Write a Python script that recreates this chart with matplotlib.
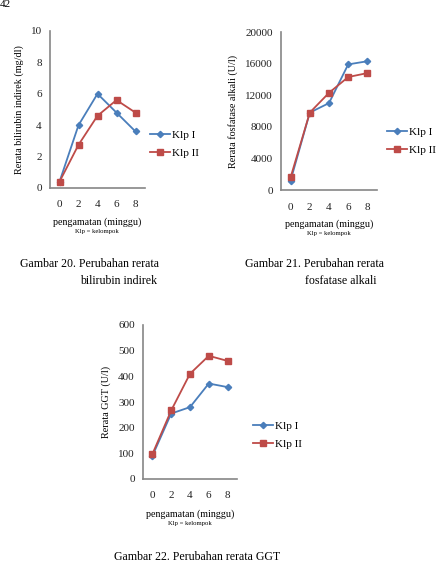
import matplotlib
matplotlib.use("Agg")
import matplotlib.pyplot as plt

plt.rcParams['font.family'] = ['Liberation Serif', 'DejaVu Serif']

W, H = 440, 564
minggu = ['0', '2', '4', '6', '8']

bili_1 = [0.4, 4.0, 6.0, 4.8, 3.6]
bili_2 = [0.4, 2.75, 4.6, 5.6, 4.8]
alp_1 = [1200, 9800, 11000, 15900, 16300]
alp_2 = [1600, 9800, 12300, 14300, 14800]
ggt_1 = [90, 255, 280, 372, 358]
ggt_2 = [97, 267, 410, 480, 460]

blue = '#4a7ebb'
red = '#be4b48'
grey = '#868686'

fig = plt.figure(figsize=(W / 100, H / 100), dpi=100)


def px_axes(l, t, r, b):
    return fig.add_axes([l / W, 1 - b / H, (r - l) / W, (b - t) / H])


def chart(box, y1, y2, ymax, ystep, ylabel, leg_xy, lab_x, lab_y):
    ax = px_axes(*box)
    x = range(len(minggu))
    ax.plot(x, y1, color=blue, marker='D', ms=3.2, lw=1.3, label='Klp I')
    ax.plot(x, y2, color=red, marker='s', ms=5, lw=1.3, label='Klp II')
    ax.set_xlim(-0.5, 4.5)
    ax.set_ylim(0, ymax)
    ax.set_yticks(range(0, ymax + 1, ystep))
    ax.set_xticks(list(x))
    ax.set_xticklabels(minggu)
    for s in ['top', 'right']:
        ax.spines[s].set_visible(False)
    for s in ['left', 'bottom']:
        ax.spines[s].set_color(grey)
        ax.spines[s].set_linewidth(1.2)
    ax.tick_params(axis='both', length=0, labelsize=8, colors='#222222')
    ax.tick_params(axis='x', pad=9)
    ax.tick_params(axis='y', pad=6)
    ax.set_ylabel(ylabel, fontsize=7.3, labelpad=5)
    ax.legend(loc='center left', bbox_to_anchor=(leg_xy[0] / W, 1 - leg_xy[1] / H),
              bbox_transform=fig.transFigure, frameon=False, fontsize=8,
              handlelength=1.8, handletextpad=0.15, labelspacing=0.7,
              borderpad=0, borderaxespad=0)
    fig.text(lab_x / W, 1 - lab_y / H, 'pengamatan (minggu)', ha='center',
             va='center', fontsize=7.2)
    fig.text(lab_x / W, 1 - (lab_y + 9) / H, 'Klp = kelompok', ha='center',
             va='center', fontsize=4.8)
    return ax


chart((50, 31, 145, 188), bili_1, bili_2, 10, 2,
      'Rerata bilirubin indirek (mg/dl)', (150, 144), 97, 222)
chart((281, 32, 377, 190), alp_1, alp_2, 20000, 4000,
      'Rerata fosfatase alkali (U/l)', (387, 141), 329, 224)
chart((143, 325, 237, 479), ggt_1, ggt_2, 600, 100,
      'Rerata GGT (U/l)', (253, 435), 190, 514)

fig.text(20 / W, 1 - 264 / H, 'Gambar 20. Perubahan rerata', fontsize=8.6, va='center')
fig.text(80 / W, 1 - 281 / H, 'bilirubin indirek', fontsize=8.6, va='center')
fig.text(245 / W, 1 - 264 / H, 'Gambar 21. Perubahan rerata', fontsize=8.6, va='center')
fig.text(305 / W, 1 - 281 / H, 'fosfatase alkali', fontsize=8.6, va='center')
fig.text(114 / W, 1 - 557 / H, 'Gambar 22. Perubahan rerata GGT', fontsize=8.6, va='center')
fig.text(0, 1, '42', fontsize=8, va='top')

fig.savefig('out.png', dpi=100)
